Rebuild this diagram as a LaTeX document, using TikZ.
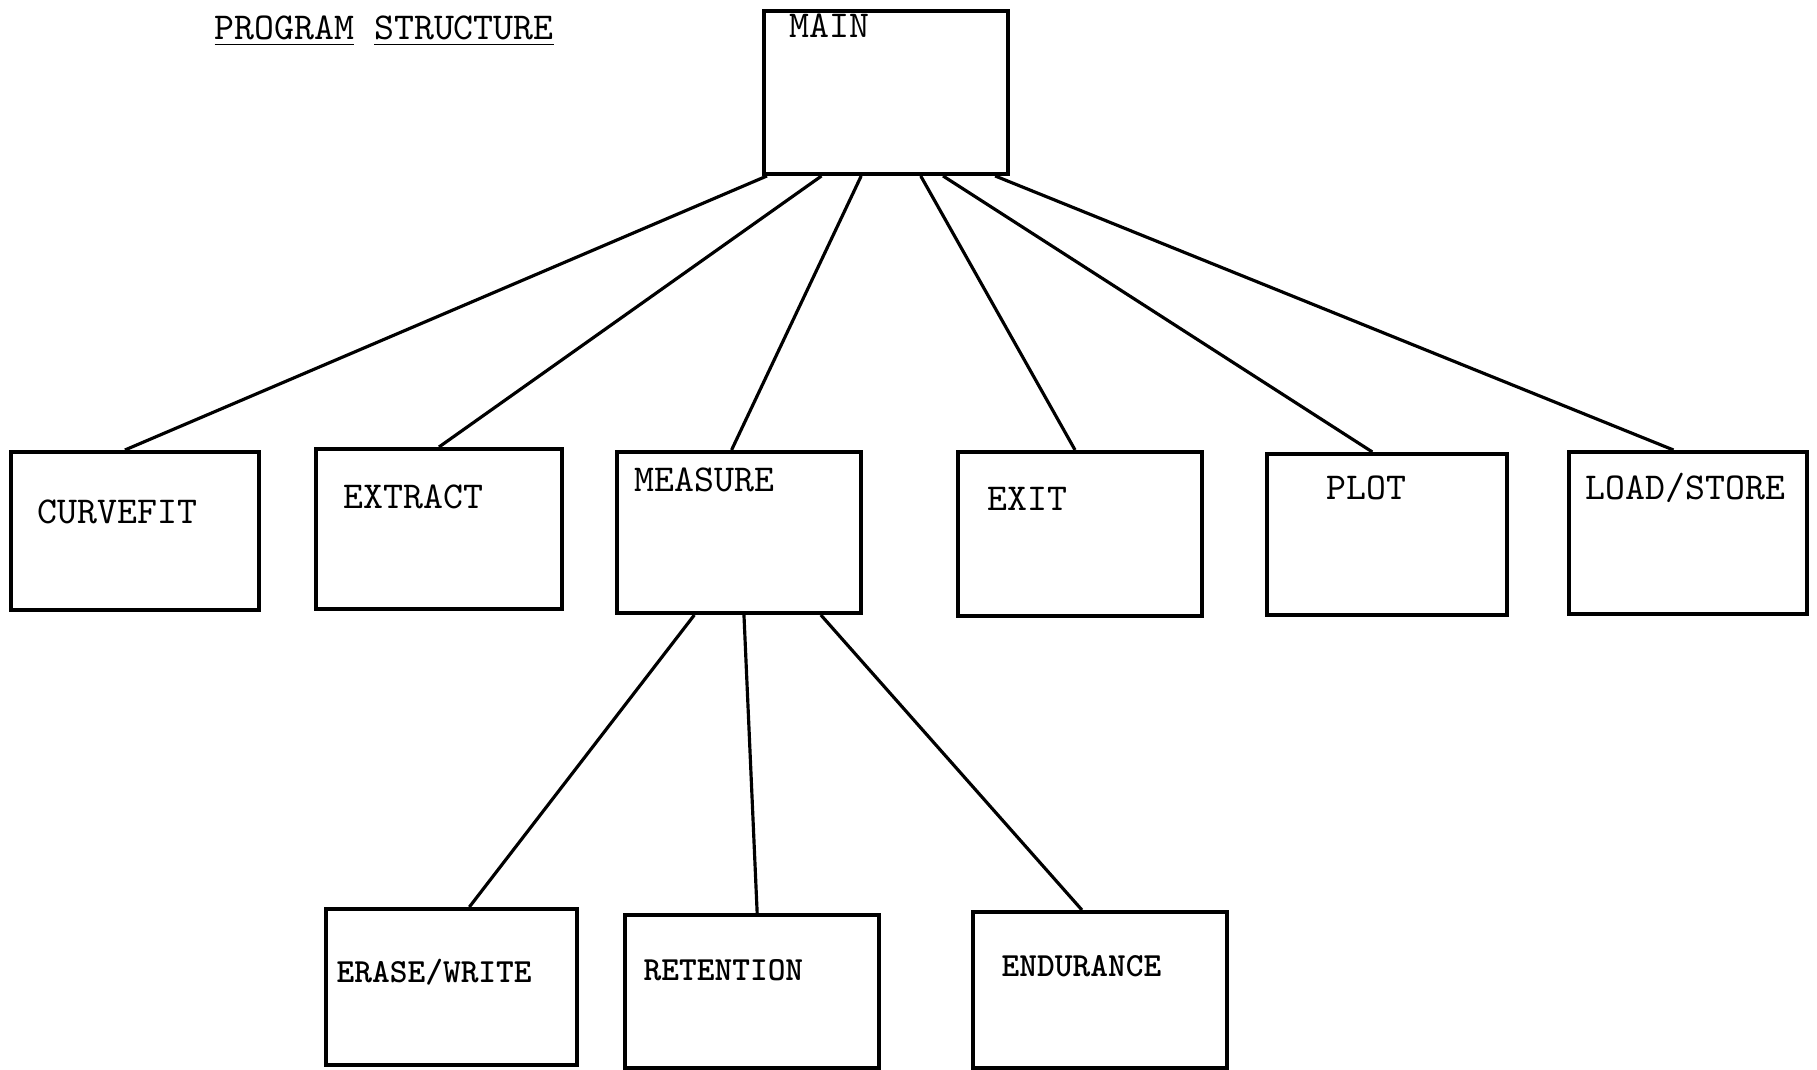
\documentclass[tikz,border=0pt]{standalone}
\usepackage{fontspec}
\usetikzlibrary{calc, positioning}

\tikzset{
    box/.style={draw, line width=1.1pt, anchor=north west, inner sep=0pt},
    lbl/.style={anchor=west, font=\ttfamily\fontsize{10.8}{12}\selectfont, inner sep=0pt},
    lblb/.style={lbl, font=\ttfamily\bfseries\fontsize{9.6}{11}\selectfont},
    link/.style={line width=0.9pt}
}

\begin{document}
\begin{tikzpicture}[x=0.01cm, y=-0.01cm]

    % page frame
    \useasboundingbox (0,0) rectangle (1817,1070);

    % ==========================================
    % 1. TITLE
    % ==========================================
    \node[lbl] (title) at (214,31) {\underline{PROGRAM} \underline{STRUCTURE}};

    % ==========================================
    % 2. TOP: MAIN
    % ==========================================
    \node[box, minimum width=2.44cm, minimum height=1.63cm] (main) at (762,9) {};
    \node[lbl] (mainlbl) at (789,26) {MAIN};

    % ==========================================
    % 3. MIDDLE ROW
    % ==========================================
    \node[box, minimum width=2.48cm, minimum height=1.58cm] (curvefit) at (9,450) {};
    \node[box, minimum width=2.46cm, minimum height=1.60cm] (extract)  at (314,447) {};
    \node[box, minimum width=2.44cm, minimum height=1.61cm] (measure)  at (615,450) {};
    \node[box, minimum width=2.44cm, minimum height=1.64cm] (exit)     at (956,450) {};
    \node[box, minimum width=2.40cm, minimum height=1.61cm] (plot)     at (1265,452) {};
    \node[box, minimum width=2.38cm, minimum height=1.62cm] (loadstore) at (1567,450) {};

    \node[lbl] (curvefitlbl) at (37,512) {CURVEFIT};
    \node[lbl] (extractlbl)  at (343,497) {EXTRACT};
    \node[lbl] (measurelbl)  at (634,480) {MEASURE};
    \node[lbl] (exitlbl)     at (987,499) {EXIT};
    \node[lbl] (plotlbl)     at (1326,488) {PLOT};
    \node[lbl] (loadstorelbl) at (1585,488) {LOAD/STORE};

    % ==========================================
    % 4. BOTTOM ROW (under MEASURE)
    % ==========================================
    \node[box, minimum width=2.51cm, minimum height=1.56cm] (erase)     at (324,907) {};
    \node[box, minimum width=2.54cm, minimum height=1.53cm] (retention) at (623,913) {};
    \node[box, minimum width=2.54cm, minimum height=1.56cm] (endurance) at (971,910) {};

    \node[lblb] (eraselbl)     at (336,972) {ERASE/WRITE};
    \node[lblb] (retentionlbl) at (643,970) {RETENTION};
    \node[lblb] (endurancelbl) at (1001,966) {ENDURANCE};

    % ==========================================
    % 5. CONNECTORS
    % ==========================================
    \draw[link] ($(main.south west)!0.02!(main.south east)$) -- ($(curvefit.north west)!0.46!(curvefit.north east)$);
    \draw[link] ($(main.south west)!0.24!(main.south east)$) -- ($(extract.north west)!0.50!(extract.north east)$);
    \draw[link] ($(main.south west)!0.40!(main.south east)$) -- ($(measure.north west)!0.47!(measure.north east)$);
    \draw[link] ($(main.south west)!0.64!(main.south east)$) -- ($(exit.north west)!0.48!(exit.north east)$);
    \draw[link] ($(main.south west)!0.73!(main.south east)$) -- ($(plot.north west)!0.44!(plot.north east)$);
    \draw[link] ($(main.south west)!0.94!(main.south east)$) -- ($(loadstore.north west)!0.44!(loadstore.north east)$);

    \draw[link] ($(measure.south west)!0.32!(measure.south east)$) -- ($(erase.north west)!0.57!(erase.north east)$);
    \draw[link] ($(measure.south west)!0.52!(measure.south east)$) -- ($(retention.north west)!0.52!(retention.north east)$);
    \draw[link] ($(measure.south west)!0.83!(measure.south east)$) -- ($(endurance.north west)!0.43!(endurance.north east)$);

\end{tikzpicture}
\end{document}
